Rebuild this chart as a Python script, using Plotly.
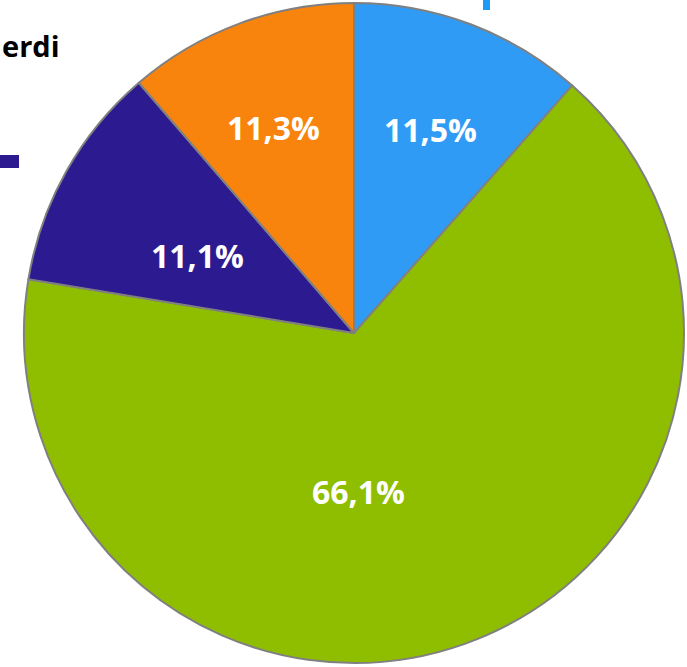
import math
import plotly.graph_objects as go

W, H = 687, 667

labels = ["Blå", "Grønn", "Lilla", "Oransje"]
values = [11.5, 66.1, 11.1, 11.3]
colors = ["#2f9bf4", "#8fbd00", "#2c1a90", "#f8840e"]

# pie centre / radius in pixels
cx, cy, r = 354, 333, 330

fig = go.Figure()
fig.add_trace(go.Pie(
    labels=labels,
    values=values,
    sort=False,
    direction='clockwise',
    rotation=0,
    marker=dict(colors=colors, line=dict(color='#808080', width=2)),
    textinfo='none',
    hoverinfo='label+percent',
    showlegend=False,
    domain=dict(x=[(cx - r) / W, (cx + r) / W],
                y=[(H - cy - r) / H, (H - cy + r) / H]),
))

# data labels placed like the original "best fit": along each slice, some pulled inwards
label_radius = [0.66, 0.48, 0.53, 0.67]
label_shift = [0, 18, -3, -1]  # degrees
total = sum(values)
start = 0
for v, rf, sh in zip(values, label_radius, label_shift):
    mid = (start + v / 2) / total * 360 + sh
    start += v
    px = cx + rf * r * math.sin(math.radians(mid))
    py = cy - rf * r * math.cos(math.radians(mid))
    txt = f"{v / total * 100:.1f}%".replace('.', ',')
    fig.add_annotation(text=f'<b>{txt}</b>', xref='paper', yref='paper',
                       x=px / W, y=1 - py / H, showarrow=False,
                       xanchor='center', yanchor='middle',
                       font=dict(family='Open Sans', size=32, color='white'))

# bits of the cropped legend that stick into the picture
fig.add_shape(type='rect', xref='paper', yref='paper',
              x0=0, x1=19 / W, y0=1 - 168 / H, y1=1 - 155 / H,
              fillcolor='#2c1a90', line_width=0)
fig.add_shape(type='rect', xref='paper', yref='paper',
              x0=483 / W, x1=490 / W, y0=1 - 10 / H, y1=1,
              fillcolor='#1e9af8', line_width=0)
fig.add_annotation(text='<b>erdi</b>', xref='paper', yref='paper',
                   x=0, y=1 - 45 / H, xanchor='left', yanchor='middle',
                   showarrow=False,
                   font=dict(family='Open Sans', size=29, color='black'))

fig.update_layout(
    width=W, height=H,
    margin=dict(l=0, r=0, t=0, b=0),
    plot_bgcolor='white',
    paper_bgcolor='white',
)

fig.write_html("out.html", config={'displayModeBar': False},
               post_script="document.body.style.margin='0';")
